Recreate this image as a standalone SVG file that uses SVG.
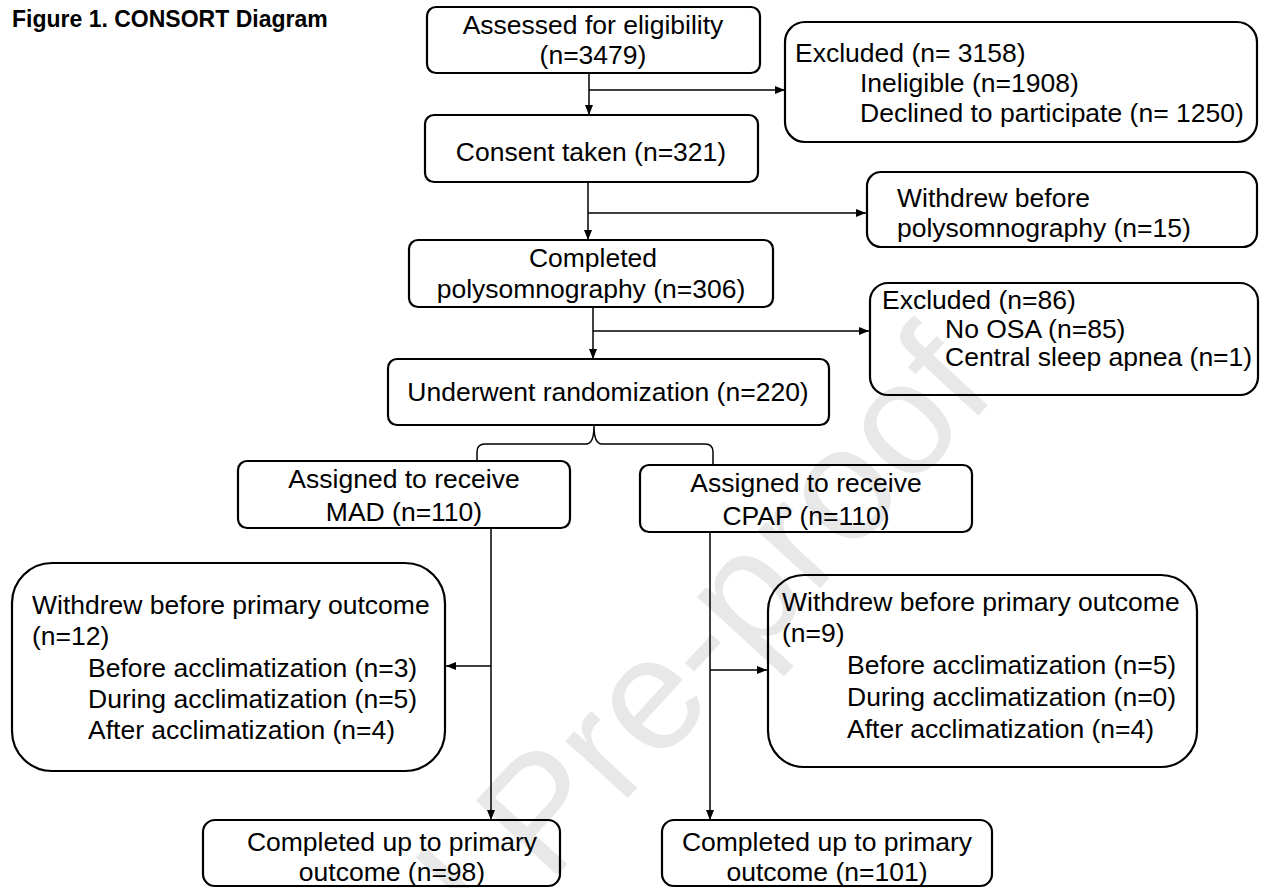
<svg xmlns="http://www.w3.org/2000/svg" width="1263" height="888" viewBox="0 0 1263 888">
<defs>
<style>
.t{font-family:"Liberation Sans",Arial,sans-serif;font-size:26.5px;fill:#000}
.c{text-anchor:middle}
.box{fill:none;stroke:#000;stroke-width:2.2}
.ln{fill:none;stroke:#000;stroke-width:1.5}
.wm{font-family:"Liberation Sans",Arial,sans-serif;font-size:160px;fill:#e8e8e8}
</style>
<marker id="ah" markerWidth="10" markerHeight="8" refX="10" refY="4" orient="auto" markerUnits="userSpaceOnUse"><path d="M0,0 L10,4 L0,8 z" fill="#000"/></marker>
</defs>
<rect width="1263" height="888" fill="#fff"/>
<text class="wm" transform="translate(548,885) rotate(-47.5)" x="-569" y="0">Journal Pre-proof</text>
<text x="12" y="27" style="font-family:'Liberation Sans',Arial,sans-serif;font-size:23px;font-weight:bold">Figure 1. CONSORT Diagram</text>

<g id="assessed">
<rect class="box" x="427" y="7" width="333" height="66" rx="9"/>
<text class="t c" x="593" y="34">Assessed for eligibility</text>
<text class="t c" x="593" y="64">(n=3479)</text>
</g>
<g id="excluded1">
<rect class="box" x="785" y="22" width="472" height="120" rx="20"/>
<text class="t" x="795" y="62">Excluded (n= 3158)</text>
<text class="t" x="860" y="92">Ineligible (n=1908)</text>
<text class="t" x="860" y="122">Declined to participate (n= 1250)</text>
</g>
<g id="consent">
<rect class="box" x="425" y="115" width="333" height="67" rx="9"/>
<text class="t c" x="591" y="161">Consent taken (n=321)</text>
</g>
<g id="withdrew1">
<rect class="box" x="867" y="172" width="390" height="75" rx="14"/>
<text class="t" x="897" y="207">Withdrew before</text>
<text class="t" x="897" y="237">polysomnography (n=15)</text>
</g>
<g id="completedpsg">
<rect class="box" x="409" y="240" width="364" height="67" rx="9"/>
<text class="t c" x="593" y="267">Completed</text>
<text class="t c" x="591" y="298">polysomnography (n=306)</text>
</g>
<g id="excluded2">
<rect class="box" x="870" y="283" width="388" height="112" rx="18"/>
<text class="t" x="882" y="309">Excluded (n=86)</text>
<text class="t" x="945" y="338">No OSA (n=85)</text>
<text class="t" x="945" y="366">Central sleep apnea (n=1)</text>
</g>
<g id="randomization">
<rect class="box" x="388" y="359" width="441" height="66" rx="9"/>
<text class="t c" x="608" y="401">Underwent randomization (n=220)</text>
</g>
<g id="mad">
<rect class="box" x="238" y="461" width="332" height="67" rx="9"/>
<text class="t c" x="404" y="488">Assigned to receive</text>
<text class="t c" x="404" y="521">MAD (n=110)</text>
</g>
<g id="cpap">
<rect class="box" x="640" y="465" width="332" height="67" rx="9"/>
<text class="t c" x="806" y="492">Assigned to receive</text>
<text class="t c" x="806" y="525">CPAP (n=110)</text>
</g>
<g id="withdrewmad">
<rect class="box" x="12" y="563" width="433" height="208" rx="40"/>
<text class="t" x="32" y="614">Withdrew before primary outcome</text>
<text class="t" x="32" y="645">(n=12)</text>
<text class="t" x="88" y="677">Before acclimatization (n=3)</text>
<text class="t" x="88" y="708">During acclimatization (n=5)</text>
<text class="t" x="88" y="739">After acclimatization (n=4)</text>
</g>
<g id="withdrewcpap">
<rect class="box" x="768" y="575" width="429" height="192" rx="36"/>
<text class="t" x="782" y="611">Withdrew before primary outcome</text>
<text class="t" x="782" y="642">(n=9)</text>
<text class="t" x="847" y="674">Before acclimatization (n=5)</text>
<text class="t" x="847" y="706">During acclimatization (n=0)</text>
<text class="t" x="847" y="738">After acclimatization (n=4)</text>
</g>
<g id="completedmad">
<rect class="box" x="203" y="820" width="357" height="66" rx="12"/>
<text class="t c" x="392" y="851">Completed up to primary</text>
<text class="t c" x="392" y="881">outcome (n=98)</text>
</g>
<g id="completedcpap">
<rect class="box" x="662" y="820" width="330" height="66" rx="12"/>
<text class="t c" x="827" y="851">Completed up to primary</text>
<text class="t c" x="827" y="881">outcome (n=101)</text>
</g>

<g id="connectors">
<path class="ln" d="M589,73 V115" marker-end="url(#ah)"/>
<path class="ln" d="M589,90 H785" marker-end="url(#ah)"/>
<path class="ln" d="M588,182 V240" marker-end="url(#ah)"/>
<path class="ln" d="M588,213 H866" marker-end="url(#ah)"/>
<path class="ln" d="M593,307 V359" marker-end="url(#ah)"/>
<path class="ln" d="M593,331 H869" marker-end="url(#ah)"/>
<path class="ln" d="M477,461 V452 Q477,444 485,444 H586 Q594,444 594,426 Q594,444 602,444 H705 Q713,444 713,452 V465"/>
<path class="ln" d="M491,528 V820" marker-end="url(#ah)"/>
<path class="ln" d="M491,666 H446" marker-end="url(#ah)"/>
<path class="ln" d="M710,532 V820" marker-end="url(#ah)"/>
<path class="ln" d="M710,670 H767" marker-end="url(#ah)"/>
</g>
</svg>
